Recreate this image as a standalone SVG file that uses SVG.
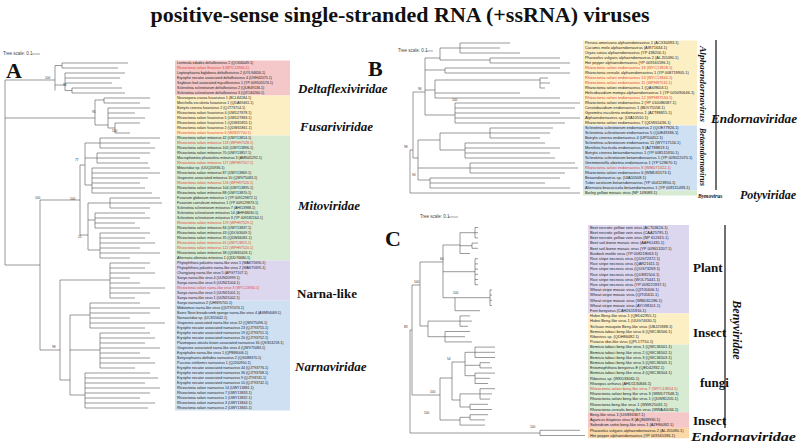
<svg xmlns="http://www.w3.org/2000/svg" width="800" height="443" viewBox="0 0 800 443">
<style>
.t{font-family:"Liberation Sans",Arial,sans-serif;font-size:3.6px;fill:#222}
.u{font-family:"Liberation Sans",Arial,sans-serif;font-size:3.9px;fill:#222}
.r{fill:#e0453a}
.br{stroke:#555;stroke-width:0.6;fill:none}
.bs{font-family:"Liberation Sans",Arial,sans-serif;font-size:3.2px;fill:#333}
.fam{font-family:"Liberation Serif","Times New Roman",serif;font-weight:bold;font-style:italic;font-size:13px;fill:#111}
.grp{font-family:"Liberation Serif","Times New Roman",serif;font-weight:bold;font-size:13px;fill:#111}
.pl{font-family:"Liberation Serif","Times New Roman",serif;font-weight:bold;font-size:22px;fill:#111}
.sc{font-family:"Liberation Sans",Arial,sans-serif;font-size:4.5px;fill:#444}
</style>
<rect width="800" height="443" fill="#fff"/>
<text x="400" y="22" text-anchor="middle" font-family="Liberation Serif,serif" font-weight="bold" font-size="22" fill="#111">positive-sense single-stranded RNA (+ssRNA) viruses</text>

<!-- Panel A -->
<g id="panelA">
<text class="sc" x="3" y="55">Tree scale: 0.1</text><path d="M32 54H40" stroke="#444" stroke-width="0.5"/>
<text class="pl" x="6" y="78">A</text>
<rect x="175" y="60.5" width="115" height="35" fill="#f4c8c8"/>
<rect x="175" y="95.5" width="115" height="40" fill="#fdefc4"/>
<rect x="175" y="135.5" width="115" height="125" fill="#d7ebd3"/>
<rect x="175" y="260.5" width="115" height="40" fill="#ddd6ef"/>
<rect x="175" y="300.5" width="115" height="110" fill="#cfe0f2"/>
<text class="fam" x="298" y="93">Deltaflexiviridae</text>
<text class="fam" x="300" y="131">Fusariviridae</text>
<text class="fam" x="298" y="210">Mitoviridae</text>
<text class="grp" x="297" y="298" font-size="14">Narna-like</text>
<text class="fam" x="295" y="371">Narnaviridae</text>
</g>
<g id="leavesA">
<text class="t" x="177" y="64.3">Lentinula edodes deltaflexivirus 2 (QOI06049.1)</text>
<text class="t r" x="177" y="69.3">Rhizoctonia solani flexivirus 3 (WYC13940.1)</text>
<text class="t" x="177" y="74.3">Leptosphaeria biglobosa deltaflexivirus 2 (UYL94656.1)</text>
<text class="t" x="177" y="79.3">Erysiphe necator associated deltaflexivirus 4 (UVH42075.1)</text>
<text class="t" x="177" y="84.3">Soybean leaf-associated mycoflexivirus 1 (YP 009505574.1)</text>
<text class="t" x="177" y="89.3">Sclerotinia sclerotiorum deltaflexivirus 2 (QUE49136.1)</text>
<text class="t" x="177" y="94.3">Sclerotinia sclerotiorum deltaflexivirus 3 (QZO40260.1)</text>
<text class="t" x="177" y="99.3">Neurospora crassa fusarivirus 1 (BCL84184.1)</text>
<text class="t" x="177" y="104.3">Morchella esculenta fusarivirus 1 (QDA69461.1)</text>
<text class="t" x="177" y="109.3">Botrytis cinerea fusarivirus 2 (QJT73714.1)</text>
<text class="t" x="177" y="114.3">Rhizoctonia solani fusarivirus 4 (UWD27878.1)</text>
<text class="t" x="177" y="119.3">Rhizoctonia solani fusarivirus 5 (UWD27883.1)</text>
<text class="t" x="177" y="124.3">Rhizoctonia solani fusarivirus 1 (QDW65855.1)</text>
<text class="t" x="177" y="129.3">Rhizoctonia solani fusarivirus 2 (QDW65861.1)</text>
<text class="t r" x="177" y="134.3">Rhizoctonia solani fusarivirus 6 (WZB37700.1)</text>
<text class="t" x="177" y="139.3">Rhizoctonia solani mitovirus 42 (UWY13814.1)</text>
<text class="t r" x="177" y="144.3">Rhizoctonia solani mitovirus 128 (WPH97528.1)</text>
<text class="t" x="177" y="149.3">Rhizoctonia solani mitovirus 105 (UWY13896.1)</text>
<text class="t" x="177" y="154.3">Rhizoctonia solani mitovirus 70 (UWY13857.1)</text>
<text class="t" x="177" y="159.3">Macrophomina phaseolina mitovirus 3 (AMN45292.1)</text>
<text class="t r" x="177" y="164.3">Rhizoctonia solani mitovirus 127 (WPH97527.1)</text>
<text class="t" x="177" y="169.3">Mitoviridae sp. (UUQ20936.1)</text>
<text class="t" x="177" y="174.3">Rhizoctonia solani mitovirus 87 (UWY13869.1)</text>
<text class="t" x="177" y="179.3">Grapevine-associated mitovirus 10 (QWV75083.1)</text>
<text class="t r" x="177" y="184.3">Rhizoctonia solani mitovirus 126 (WPH97526.1)</text>
<text class="t" x="177" y="189.3">Rhizoctonia solani mitovirus 104 (UWY13895.1)</text>
<text class="t" x="177" y="194.3">Rhizoctonia solani mitovirus 88 (UWY13870.1)</text>
<text class="t" x="177" y="199.3">Fusarium globosum mitovirus 1 (YP 009129872.1)</text>
<text class="t" x="177" y="204.3">Fusarium coeruleum mitovirus 1 (YP 009129873.1)</text>
<text class="t" x="177" y="209.3">Sclerotinia sclerotiorum mitovirus 7 (AHI13988.1)</text>
<text class="t" x="177" y="214.3">Sclerotinia sclerotiorum mitovirus 14 (AHF48630.1)</text>
<text class="t" x="177" y="219.3">Sclerotinia sclerotiorum mitovirus 3 (YP 009182164.1)</text>
<text class="t r" x="177" y="224.3">Rhizoctonia solani mitovirus 129 (WPH97529.1)</text>
<text class="t" x="177" y="229.3">Rhizoctonia solani mitovirus 84 (UWY13837.1)</text>
<text class="t" x="177" y="234.3">Rhizoctonia solani mitovirus 43 (QDO63009.1)</text>
<text class="t" x="177" y="239.3">Rhizoctonia solani mitovirus 35 (QDW66081.1)</text>
<text class="t r" x="177" y="244.3">Rhizoctonia solani mitovirus 45 (UWY13815.1)</text>
<text class="t r" x="177" y="249.3">Rhizoctonia solani mitovirus 122 (WPH97520.1)</text>
<text class="t" x="177" y="254.3">Rhizoctonia solani mitovirus 38 (QDW65426.1)</text>
<text class="t" x="177" y="259.3">Alternaria alternata mitovirus 1 (QDD76680.1)</text>
<text class="t" x="177" y="264.3">Phytophthora palustris narna-like virus 1 (WAK75690.1)</text>
<text class="t" x="177" y="269.3">Phytophthora palustris narna-like virus 2 (WAK75695.1)</text>
<text class="t" x="177" y="274.3">Changjiang narna-like virus 5 (APG77107.1)</text>
<text class="t" x="177" y="279.3">Sanya narna-like virus 4 (UUN20999.1)</text>
<text class="t" x="177" y="284.3">Sanya narna-like virus 6 (UUN21004.1)</text>
<text class="t r" x="177" y="289.3">Rhizoctonia solani narna-like virus 3 (WYC13930.1)</text>
<text class="t" x="177" y="294.3">Sanya narna-like virus 5 (UUN21001.1)</text>
<text class="t" x="177" y="299.3">Sanya narna-like virus 1 (UUN21002.1)</text>
<text class="t" x="177" y="304.3">Sanya narnavirus 2 (UHN95701.1)</text>
<text class="t" x="177" y="309.3">Midatomus narna-like virus (QUT97074.1)</text>
<text class="t" x="177" y="314.3">Barns Ness breadcrumb sponge narna-like virus 4 (ASM94069.1)</text>
<text class="t" x="177" y="319.3">Narnaviridae sp. (UCS55642.1)</text>
<text class="t" x="177" y="324.3">Grapevine-associated narna-like virus 12 (QWV75096.1)</text>
<text class="t" x="177" y="329.3">Erysiphe necator associated narnavirus 23 (QJT93755.1)</text>
<text class="t" x="177" y="334.3">Erysiphe necator associated narnavirus 19 (QJT93751.1)</text>
<text class="t" x="177" y="339.3">Erysiphe necator associated narnavirus 20 (QJT93752.1)</text>
<text class="t" x="177" y="344.3">Plasmopara viticola lesion associated narnavirus 30 (QKS53218.1)</text>
<text class="t" x="177" y="349.3">Grapevine associated narna-like virus 4 (QWV75083.1)</text>
<text class="t" x="177" y="354.3">Erysiphales narna-like virus 1 (QPB86006.1)</text>
<text class="t" x="177" y="359.3">Botryosphaeria dothidea narnavirus 2 (QGD88370.1)</text>
<text class="t" x="177" y="364.3">Puccinia striiformis narnavirus 1 (QJ200950.1)</text>
<text class="t" x="177" y="369.3">Erysiphe necator associated narnavirus 44 (QJT93776.1)</text>
<text class="t" x="177" y="374.3">Erysiphe necator associated narnavirus 36 (QJT93768.1)</text>
<text class="t" x="177" y="379.3">Erysiphe necator associated narnavirus 9 (QJT93741.1)</text>
<text class="t" x="177" y="384.3">Erysiphe necator associated narnavirus 10 (QJT93742.1)</text>
<text class="t" x="177" y="389.3">Rhizoctonia solani narnavirus 14 (UWY13881.1)</text>
<text class="t" x="177" y="394.3">Rhizoctonia solani narnavirus 7 (UWY13833.1)</text>
<text class="t" x="177" y="399.3">Rhizoctonia solani narnavirus 1 (UWY13832.1)</text>
<text class="t" x="177" y="404.3">Rhizoctonia solani narnavirus 3 (UWY13844.1)</text>
<text class="t" x="177" y="409.3">Rhizoctonia solani narnavirus 2 (UWY13845.1)</text>
</g>

<!-- Panel B -->
<g id="panelB">
<text class="sc" x="398" y="52">Tree scale: 0.1</text><path d="M426 51H433" stroke="#444" stroke-width="0.5"/>
<text class="pl" x="368" y="76">B</text>
<rect x="583" y="40.5" width="114" height="85" fill="#fdefc4"/>
<rect x="583" y="125.5" width="114" height="65" fill="#cfe0f2"/>
<rect x="583" y="190.5" width="114" height="5" fill="#d7ebd3"/>
<text transform="translate(700,84) rotate(90)" text-anchor="middle" font-family="Liberation Serif,serif" font-style="italic" font-weight="bold" font-size="9" fill="#111" textLength="76" lengthAdjust="spacingAndGlyphs">Alphaendornavirus</text>
<text transform="translate(700,157) rotate(90)" text-anchor="middle" font-family="Liberation Serif,serif" font-style="italic" font-weight="bold" font-size="9" fill="#111" textLength="58" lengthAdjust="spacingAndGlyphs">Betaendornavirus</text>
<path d="M716 40V190" stroke="#111" stroke-width="1.2"/>
<text class="fam" x="711" y="123" textLength="86" lengthAdjust="spacingAndGlyphs">Endornaviridae</text>
<text x="698" y="198" font-family="Liberation Serif,serif" font-style="italic" font-weight="bold" font-size="5.5" fill="#111">Bymovirus</text>
<text class="fam" x="740" y="199" textLength="56" lengthAdjust="spacingAndGlyphs">Potyviridae</text>
</g>
<g id="leavesB">
<text class="u" x="585" y="44.3">Persea americana alphaendornavirus 1 (ACX30393.1)</text>
<text class="u" x="585" y="49.3">Cucumis melo alphaendornavirus (AIR71634.1)</text>
<text class="u" x="585" y="54.3">Oryza sativa alphaendornavirus (YP 438200.1)</text>
<text class="u" x="585" y="59.3">Phaseolus vulgaris alphaendornavirus 2 (ALJ55090.1)</text>
<text class="u" x="585" y="64.3">Hot pepper alphaendornavirus (YP 009165596.1)</text>
<text class="u r" x="585" y="69.3">Rhizoctonia solani endornavirus 18 (WYC13928.1)</text>
<text class="u" x="585" y="74.3">Rhizoctonia cerealis alphaendornavirus 1 (YP 008719905.1)</text>
<text class="u r" x="585" y="79.3">Rhizoctonia solani endornavirus 13 (WYC13944.1)</text>
<text class="u r" x="585" y="84.3">Rhizoctonia solani endornavirus 11 (WPH97532.1)</text>
<text class="u" x="585" y="89.3">Rhizoctonia solani endornavirus 1 (QAI09603.1)</text>
<text class="u" x="585" y="94.3">Helicobasidium mompa alphaendornavirus 1 (YP 005090646.1)</text>
<text class="u r" x="585" y="99.3">Rhizoctonia solani endornavirus 12 (WPH97534.1)</text>
<text class="u" x="585" y="104.3">Rhizoctonia solani endornavirus 2 (YP 010086587.1)</text>
<text class="u" x="585" y="109.3">Ceratobasidium endornavirus 1 (BDV75558.1)</text>
<text class="u" x="585" y="114.3">Gyromitra esculenta endornavirus 1 (AZT88815.1)</text>
<text class="u" x="585" y="119.3">Alphaendornavirus sp. (UIA10510.1)</text>
<text class="u" x="585" y="124.3">Rhizoctonia solani endornavirus 7 (QDW65436.1)</text>
<text class="u" x="585" y="129.3">Sclerotinia sclerotiorum endornavirus 2 (QOE77926.1)</text>
<text class="u" x="585" y="134.3">Sclerotinia sclerotiorum endornavirus 5 (QUE49186.1)</text>
<text class="u" x="585" y="139.3">Botrytis cinerea endornavirus 4 (UPI50452.1)</text>
<text class="u" x="585" y="144.3">Sclerotinia sclerotiorum endornavirus 11 (WYT17516.1)</text>
<text class="u" x="585" y="149.3">Monilinia fructicola endornavirus 3 (AZT88819.1)</text>
<text class="u" x="585" y="154.3">Botrytis cinerea betaendornavirus 1 (YP 008515910.1)</text>
<text class="u" x="585" y="159.3">Sclerotinia sclerotiorum betaendornavirus 1 (YP 009022070.1)</text>
<text class="u" x="585" y="164.3">Gremmeniella abietina endornavirus 1 (YP 529670.1)</text>
<text class="u r" x="585" y="169.3">Rhizoctonia solani endornavirus 8 (WMD71322.1)</text>
<text class="u" x="585" y="174.3">Rhizoctonia solani endornavirus 6 (WMD31573.1)</text>
<text class="u" x="585" y="179.3">Betaendornavirus sp. (UIA10508.1)</text>
<text class="u" x="585" y="184.3">Tuber aestivum betaendornavirus (YP 004123950.1)</text>
<text class="u" x="585" y="189.3">Alternaria brassicicola betaendornavirus 1 (YP 009115493.1)</text>
<text class="u" x="585" y="194.3">Barley yellow mosaic virus (NP 149089.1)</text>
</g>

<!-- Panel C -->
<g id="panelC">
<text class="sc" x="420" y="218">Tree scale: 0.1</text><path d="M448 217H458" stroke="#444" stroke-width="0.5"/>
<text class="pl" x="385" y="246">C</text>
<rect x="588" y="225" width="101" height="88.4" fill="#ddd6ef"/>
<rect x="588" y="313.4" width="101" height="31.2" fill="#fdefc4"/>
<rect x="588" y="344.6" width="101" height="67.6" fill="#d7ebd3"/>
<rect x="588" y="412.2" width="101" height="15.6" fill="#f4c8c8"/>
<rect x="588" y="427.8" width="101" height="10.4" fill="#fbd8a8"/>
<text class="grp" x="693" y="272">Plant</text>
<text class="grp" x="693" y="337">Insect</text>
<text class="grp" x="700" y="387">fungi</text>
<text class="grp" x="693" y="425">Insect</text>
<text class="fam" x="691" y="441" textLength="105" lengthAdjust="spacingAndGlyphs">Endornaviridae</text>
<path d="M725 225V428" stroke="#111" stroke-width="1.2"/>
<text transform="translate(733,330) rotate(90)" text-anchor="middle" font-family="Liberation Serif,serif" font-style="italic" font-weight="bold" font-size="12" fill="#111">Benyviridae</text>
</g>
<g id="leavesC">
<text class="u" x="590" y="228.8">Beet necrotic yellow vein virus (ACT03616.1)</text>
<text class="u" x="590" y="234">Beet necrotic yellow vein virus (CAA25795.1)</text>
<text class="u" x="590" y="239.2">Beet necrotic yellow vein virus (NP 612615.1)</text>
<text class="u" x="590" y="244.4">Beet soil-borne mosaic virus (AAF61435.1)</text>
<text class="u" x="590" y="249.6">Beet soil-borne mosaic virus (YP 009613207.1)</text>
<text class="u" x="590" y="254.8">Burdock mottle virus (YP 008218063.1)</text>
<text class="u" x="590" y="260">Rice stripe necrosis virus (QUG72372.1)</text>
<text class="u" x="590" y="265.2">Rice stripe necrosis virus (QAR21611.1)</text>
<text class="u" x="590" y="270.4">Rice stripe necrosis virus (QUG73269.1)</text>
<text class="u" x="590" y="275.6">Rice stripe necrosis virus (QUS92504.1)</text>
<text class="u" x="590" y="280.8">Rice stripe necrosis virus (WOL75441.1)</text>
<text class="u" x="590" y="286">Rice stripe necrosis virus (YP 009221937.1)</text>
<text class="u" x="590" y="291.2">Wheat stripe mosaic virus (QIT05606.1)</text>
<text class="u" x="590" y="296.4">Wheat stripe mosaic virus (QIT05611.1)</text>
<text class="u" x="590" y="301.6">Wheat stripe mosaic virus (WMU61286.1)</text>
<text class="u" x="590" y="306.8">Wheat stripe mosaic virus (AYO38101.1)</text>
<text class="u" x="590" y="312">Fern benyvirus (CAH2615916.1)</text>
<text class="u" x="590" y="317.2">Hubei Beny-like virus 1 (QED42955.1)</text>
<text class="u" x="590" y="322.4">Hubei Beny-like virus 1 (UUG74630.1)</text>
<text class="u" x="590" y="327.6">Sichuan mosquito Beny-like virus (UBJ25988.1)</text>
<text class="u" x="590" y="332.8">Bemisia tabaci beny-like virus 6 (QWC36506.1)</text>
<text class="u" x="590" y="338">Ribovirus sp. (QDH86482.1)</text>
<text class="u" x="590" y="343.2">Pistacia ribo-like virus (QPL17750.1)</text>
<text class="u" x="590" y="348.4">Bemisia tabaci beny-like virus 1 (QWC36501.1)</text>
<text class="u" x="590" y="353.6">Bemisia tabaci beny-like virus 2 (QWC36502.1)</text>
<text class="u" x="590" y="358.8">Bemisia tabaci beny-like virus 3 (QWC36503.1)</text>
<text class="u" x="590" y="364">Bemisia tabaci beny-like virus 5 (QWC36505.1)</text>
<text class="u" x="590" y="369.2">Entomophthora benyvirus E (QED42932.1)</text>
<text class="u" x="590" y="374.4">Bemisia tabaci beny-like virus 4 (QWC36504.1)</text>
<text class="u" x="590" y="379.6">Ribovirus sp. (WKD33065.1)</text>
<text class="u" x="590" y="384.8">Rhizopus arrhizus (AHD1130846.1)</text>
<text class="u r" x="590" y="390">Rhizoctonia solani beny-like virus 7 (WYC13924.1)</text>
<text class="u" x="590" y="395.2">Rhizoctonia solani beny-like virus 3 (WWD77348.1)</text>
<text class="u" x="590" y="400.4">Rhizoctonia solani beny-like virus 1 (QDW81205.1)</text>
<text class="u" x="590" y="405.6">Rhizoctonia beny-like virus 1 (WWK25031.1)</text>
<text class="u" x="590" y="410.8">Rhizoctonia cerealis beny-like virus (WWA40034.1)</text>
<text class="u" x="590" y="416">Beny-like virus 1 (UGS94367.1)</text>
<text class="u" x="590" y="421.2">Agaricus bisporus virus 8 (AQM49930.1)</text>
<text class="u" x="590" y="426.4">Solendrum cottei beny-like virus 1 (AZF86092.1)</text>
<text class="u" x="590" y="431.6">Phaseolus vulgaris alphaendornavirus 2 (ALJ55090.1)</text>
<text class="u" x="590" y="436.8">Hot pepper alphaendornavirus (YP 009165596.1)</text>
</g>

<g id="connectors" class="br">
<path d="M5 80V265M5 80H55M55 65.5V90.5M55 65.5H62M62 63V68M62 63H128M62 68H118M55 85H65M65 73V90.5M65 73H125M65 78H120M65 83H112M65 90.5H72M72 88V93M72 88H122M72 93H125"/>
<path d="M5 118H95M95 100V125M95 100H104M104 98V103M104 98H150M104 103H140M95 125H108M108 108V128M108 108H150M108 113H135M108 118H145M108 128H115M115 123V133M115 123H140M115 133H130"/>
<path d="M5 265H40M40 200V350M40 200H80M80 165V235M80 165H85M85 143V185M85 143H100M100 138V148M100 138H160M100 143H150M100 148H155M85 158H97M97 153V163M97 153H150M97 158H140M97 163H148M85 185H92M92 168V193M92 168H150M92 173H160M92 178H148M92 183H140M92 188H145M92 193H152"/>
<path d="M80 235H88M88 203V250M88 203H110M110 198V208M110 198H160M110 203H162M110 208H150M88 220H95M95 213V228M95 213H145M95 218H150M95 223H135M95 228H140M88 250H100M100 233V258M100 233H150M100 238H145M100 243H155M100 248H140M100 253H160M100 258H130"/>
<path d="M40 350H60M60 280V380M60 280H110M110 263V298M110 263H150M110 268H145M110 273H155M110 278H130M110 283H140M110 288H165M110 293H150M110 298H135"/>
<path d="M60 380H70M70 315V395M70 315H90M90 303V328M90 303H140M90 308H160M90 313H150M90 318H130M90 323H165M90 328H145M70 350H100M100 333V368M100 333H150M100 338H155M100 343H145M100 348H160M100 353H140M100 358H150M100 363H155M100 368H135M70 395H85M85 373V408M85 373H150M85 378H158M85 383H145M85 388H160M85 393H150M85 398H140M85 403H155M85 408H148"/>
<path d="M410 150V193M410 193H580M410 150H413M413 92V158M413 92H425M425 58V115M425 58H440M440 48V60M440 48H460M460 43V53M460 43H510M460 48H500M460 53H520M440 60H490M490 58V63M490 58H560M490 63H570M425 70H445M445 68V73M445 68H560M445 73H570M425 90H435M435 80V98M435 80H540M540 78V88M540 78H548M540 83H550M540 88H545M435 93H520M435 98H560M425 115H455M455 103V123M455 103H580M455 108H575M455 113H560M455 118H580M455 123H565"/>
<path d="M413 158H418M418 140V180M418 140H440M440 133V150M440 133H490M490 128V138M490 128H553M490 133H550M490 138H540M440 150H465M465 143V158M465 143H545M465 148H560M465 153H550M465 158H555M418 168H470M470 163V173M470 163H575M470 168H578M470 173H565M418 180H430M430 178V188M430 178H560M430 183H545M430 188H570"/>
<path d="M410 330V433M410 433H540M540 430.3V435.5M540 430.3H580M540 435.5H585M410 330H412M412 285V395M412 285H420M420 262V326M420 262H443M443 245V297.7M443 245H460M460 232.7V253.5M460 232.7H475M475 227.5V237.9M475 227.5H478M475 232.7H478M475 237.9H478M460 245.7H472M472 243.1V248.3M472 243.1H478M472 248.3H478M460 253.5H470M443 271.7H475M475 258.7V284.7M475 258.7H478M475 263.9H478M475 269.1H478M475 274.3H478M475 279.5H478M475 284.7H478M443 297.7H455M455 297.7V310.7M455 297.7H490M490 289.9V305.5M490 289.9H492M490 295.1H492M490 300.3H492M490 305.5H492M455 310.7H480"/>
<path d="M420 326H428M428 321.1V336.7M428 321.1H460M460 315.9V326.3M460 315.9H470M460 321.1H472M460 326.3H468M428 336.7H445M445 331.5V341.9M445 331.5H470M445 336.7H465M445 341.9H472"/>
<path d="M412 395H440M440 378V420M440 378H452M452 362V400M452 362H465M465 352.3V375.7M465 352.3H475M475 347.1V357.5M475 347.1H495M475 352.3H495M475 357.5H495M465 365.3H480M480 362.7V367.9M480 362.7H490M480 367.9H492M465 375.7H475M475 373.1V383.5M475 373.1H495M475 378.3H490M475 383.5H488M452 400H460M460 393.9V407M460 393.9H480M480 388.7V399.1M480 388.7H495M480 393.9H492M480 399.1H490M460 407H470M470 404.3V409.5M470 404.3H488M470 409.5H492M440 420H460M460 417.3V425.1M460 417.3H470M470 414.7V419.9M470 414.7H488M470 419.9H485M460 425.1H485"/>
</g>
<g id="bootstrap">
<text class="bs" x="45" y="79">100</text><text class="bs" x="63" y="86">96</text><text class="bs" x="112" y="132">100</text>
<text class="bs" x="92" y="113">95</text><text class="bs" x="75" y="161">77</text><text class="bs" x="70" y="200">100</text>
<text class="bs" x="35" y="199">100</text><text class="bs" x="78" y="238">25</text><text class="bs" x="52" y="348">98</text>
<text class="bs" x="404" y="148">98</text><text class="bs" x="418" y="90">96</text><text class="bs" x="412" y="176">94</text><text class="bs" x="452" y="101">100</text>
<text class="bs" x="404" y="328">83</text><text class="bs" x="414" y="283">100</text><text class="bs" x="430" y="393">100</text><text class="bs" x="453" y="294">100</text>
<text class="bs" x="440" y="260">60</text><text class="bs" x="447" y="360">54</text><text class="bs" x="424" y="414">100</text><text class="bs" x="530" y="428">100</text>
</g>
</svg>
